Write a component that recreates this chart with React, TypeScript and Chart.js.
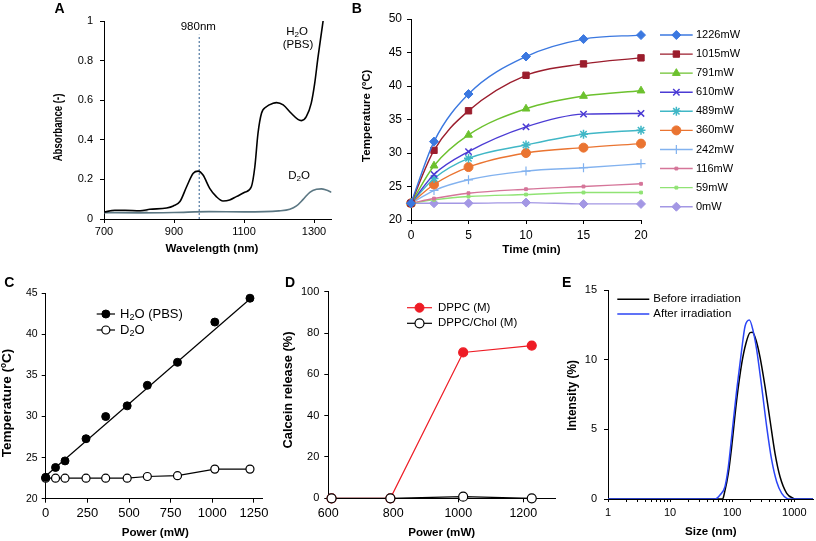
import React, { useEffect, useRef } from 'react';
import { Chart, registerables } from 'chart.js';
import { drawPoint } from 'chart.js/helpers';

Chart.register(...registerables);

const FONT = '"Liberation Sans", Arial, Helvetica, sans-serif';

// ---------- Panel A : absorbance spectra ----------
const aWave = [700, 731, 760, 803, 831, 879, 898, 917, 936, 955, 969, 983, 1002, 1021, 1040, 1059, 1078, 1102, 1121, 1131, 1140, 1150, 1164, 1183, 1193, 1212, 1235, 1254, 1264, 1278, 1292, 1302, 1311, 1321, 1326];
const aH2O = [0.035, 0.044, 0.044, 0.042, 0.049, 0.056, 0.066, 0.088, 0.163, 0.231, 0.242, 0.222, 0.155, 0.113, 0.091, 0.096, 0.113, 0.135, 0.163, 0.264, 0.433, 0.534, 0.567, 0.584, 0.588, 0.576, 0.534, 0.503, 0.497, 0.517, 0.584, 0.685, 0.811, 0.938, 1.0];
const aD2OWave = [700, 800, 900, 1000, 1100, 1200, 1231, 1250, 1269, 1288, 1307, 1321, 1335, 1350];
const aD2O = [0.032, 0.031, 0.033, 0.037, 0.036, 0.041, 0.049, 0.066, 0.099, 0.135, 0.15, 0.152, 0.146, 0.135];
const aShadeWave = [720, 731, 760, 803, 825];
const aShade = [0.04, 0.044, 0.044, 0.042, 0.046];
const aLaserNm = 972;
const aLaserTop = 0.93;
const aXTicks = [700, 900, 1100, 1300];
const aYTicks = [0, 0.2, 0.4, 0.6, 0.8, 1];

// ---------- Panel B : heating curves ----------
const bTime = [0, 2, 5, 10, 15, 20];
const bLabels = ['1226mW', '1015mW', '791mW', '610mW', '489mW', '360mW', '242mW', '116mW', '59mW', '0mW'];
const b1226 = [22.5, 31.7, 38.8, 44.4, 47.0, 47.6];
const b1015 = [22.5, 30.4, 36.3, 41.6, 43.3, 44.2];
const b791 = [22.5, 28.1, 32.7, 36.6, 38.5, 39.3];
const b610 = [22.5, 26.8, 30.2, 33.9, 35.8, 35.9];
const b489 = [22.5, 26.2, 29.2, 31.2, 32.8, 33.4];
const b360 = [22.5, 25.3, 27.9, 30.0, 30.8, 31.4];
const b242 = [22.5, 24.4, 26.0, 27.3, 27.8, 28.4];
const b116 = [22.5, 23.2, 24.0, 24.6, 25.0, 25.4];
const b59 = [22.5, 23.0, 23.5, 23.8, 24.1, 24.1];
const b0 = [22.5, 22.5, 22.5, 22.6, 22.4, 22.4];
const bSeries = [b1226, b1015, b791, b610, b489, b360, b242, b116, b59, b0];
const bXTicks = [0, 5, 10, 15, 20];
const bYTicks = [20, 25, 30, 35, 40, 45, 50];

// ---------- Panel C : temperature vs power ----------
const cPower = [0, 59, 116, 242, 360, 489, 610, 791, 1015, 1226];
const cH2O = [22.6, 23.8, 24.6, 27.3, 30.0, 31.3, 33.8, 36.6, 41.5, 44.4];
const cD2O = [22.5, 22.5, 22.5, 22.5, 22.5, 22.5, 22.7, 22.8, 23.6, 23.6];
const cFitX = [0, 1226];
const cFitY = [22.76, 44.3];
const cXTicks = [0, 250, 500, 750, 1000, 1250];
const cYTicks = [20, 25, 30, 35, 40, 45];

// ---------- Panel D : calcein release ----------
const dPower = [610, 791, 1015, 1226];
const dDPPC = [0, 0, 70.6, 73.9];
const dChol = [0, 0, 0.8, 0];
const dXTicks = [600, 800, 1000, 1200];
const dYTicks = [0, 20, 40, 60, 80, 100];

// ---------- Panel E : size distribution ----------
const eBeforeSize = [1, 60, 70.3, 74.7, 86.6, 98.1, 118, 142, 167, 194, 211, 242, 280, 338, 406, 489, 589, 755, 964, 1092, 2000];
const eBefore = [0, 0, 0, 0.4, 1.84, 3.76, 7.1, 9.7, 11.2, 11.94, 11.96, 11.4, 10.2, 8.06, 5.67, 3.28, 1.6, 0.41, 0.05, 0, 0];
const eAfterSize = [1, 45, 52.9, 63.6, 76.6, 86.6, 98.1, 118, 142, 161, 189, 219, 248, 298, 359, 432, 520, 627, 755, 853, 2000];
const eAfter = [0, 0, 0, 0.29, 0.9, 2.3, 4.5, 7.8, 10.7, 12.4, 12.85, 12.0, 10.7, 8.06, 5.2, 2.8, 1.24, 0.4, 0.05, 0, 0];
const eXTicks = [1, 2, 3, 4, 5, 6, 7, 8, 9, 10, 20, 30, 40, 50, 60, 70, 80, 90, 100, 200, 300, 400, 500, 600, 700, 800, 900, 1000];
const eXLabels = [1, 10, 100, 1000];
const eYTicks = [0, 5, 10, 15];

// ---------- helpers ----------
const zip = (xs: number[], ys: number[]) => xs.map((x, i) => ({ x, y: ys[i] }));

type TOpt = { size: number; bold?: boolean; align?: 'left' | 'center' | 'right'; color?: string; rot?: number; stretch?: number };

function drawText(ctx: CanvasRenderingContext2D, text: string, x: number, y: number, o: TOpt) {
  const parts = text.split(/_(.)/);
  const f = (s: number) => `${o.bold ? 'bold ' : ''}${s}px ${FONT}`;
  ctx.save();
  ctx.translate(x, y);
  if (o.rot) ctx.rotate(o.rot);
  if (o.stretch) ctx.scale(o.stretch, 1);
  let w = 0;
  parts.forEach((p, i) => {
    ctx.font = f(i % 2 ? o.size * 0.7 : o.size);
    w += ctx.measureText(p).width;
  });
  let cx = o.align === 'center' ? -w / 2 : o.align === 'right' ? -w : 0;
  ctx.fillStyle = o.color ?? '#000';
  ctx.textBaseline = 'middle';
  ctx.textAlign = 'left';
  parts.forEach((p, i) => {
    const sub = i % 2 === 1;
    ctx.font = f(sub ? o.size * 0.7 : o.size);
    ctx.fillText(p, cx, sub ? o.size * 0.3 : 0);
    cx += ctx.measureText(p).width;
  });
  ctx.restore();
}

type Leg = {
  text: string; x1: number; x2: number; y: number; tx: number; size: number;
  line: string; lw: number; style?: string; r?: number; fill?: string; stroke?: string; bw?: number;
};

function drawLegend(ctx: CanvasRenderingContext2D, it: Leg) {
  ctx.save();
  ctx.strokeStyle = it.line;
  ctx.lineWidth = it.lw;
  ctx.beginPath();
  ctx.moveTo(it.x1, it.y);
  ctx.lineTo(it.x2, it.y);
  ctx.stroke();
  if (it.style) {
    ctx.fillStyle = it.fill ?? it.line;
    ctx.strokeStyle = it.stroke ?? it.line;
    ctx.lineWidth = it.bw ?? 1;
    drawPoint(ctx, { pointStyle: it.style as any, radius: it.r ?? 4, rotation: 0, borderWidth: it.bw ?? 1 }, (it.x1 + it.x2) / 2, it.y);
  }
  ctx.restore();
  drawText(ctx, it.text, it.tx, it.y, { size: it.size });
}

function overlay(ox: number, oy: number, draw: (ctx: CanvasRenderingContext2D) => void) {
  return {
    id: 'overlay',
    afterDraw(chart: any) {
      const ctx = chart.ctx as CanvasRenderingContext2D;
      ctx.save();
      ctx.translate(-ox, -oy);
      draw(ctx);
      ctx.restore();
    },
  };
}

function axis(o: { horiz: boolean; min: number; max: number; ticks: number[]; fit: number; size: number; pad: number; type?: string; label?: (v: number) => string; tickLen?: number }) {
  return {
    type: o.type ?? 'linear',
    position: o.horiz ? 'bottom' : 'left',
    min: o.min,
    max: o.max,
    afterBuildTicks: (s: any) => { s.ticks = o.ticks.map((v) => ({ value: v })); },
    afterFit: (s: any) => { if (o.horiz) s.height = o.fit; else s.width = o.fit; },
    ticks: {
      autoSkip: false, maxRotation: 0, minRotation: 0, color: '#000', padding: o.pad,
      font: { family: FONT, size: o.size },
      callback: (v: any) => (o.label ? o.label(Number(v)) : String(v)),
    },
    grid: { display: true, drawOnChartArea: false, drawTicks: true, tickLength: o.tickLen ?? 4, color: '#000', lineWidth: 1 },
    border: { display: true, color: '#000', width: 1 },
    title: { display: false },
  };
}

function base(padding: any, scales: any) {
  return {
    responsive: false,
    animation: false,
    devicePixelRatio: 1,
    layout: { padding },
    plugins: { legend: { display: false }, tooltip: { enabled: false } },
    events: [],
    scales,
  };
}

const ROT = -Math.PI / 2;
const LETTER = { size: 14, bold: true, align: 'center' as const };
const TITLE = { size: 11.6, bold: true, align: 'center' as const };

// ---------- chart factories ----------
function makeA() {
  return {
    type: 'line',
    data: {
      datasets: [
        { label: 'H2O (PBS)', data: zip(aWave, aH2O), borderColor: '#000', borderWidth: 1.6, pointRadius: 0, cubicInterpolationMode: 'monotone', order: 0 },
        { label: 'D2O', data: zip(aD2OWave, aD2O), borderColor: '#5b7783', borderWidth: 1.6, pointRadius: 0, cubicInterpolationMode: 'monotone', order: 1 },
        { label: '980nm', data: [{ x: aLaserNm, y: 0 }, { x: aLaserNm, y: aLaserTop }], borderColor: '#2f5f8f', borderWidth: 1, borderDash: [2, 2], pointRadius: 0, order: 2 },
        { label: 'shade', data: zip(aShadeWave, aShade), borderWidth: 0, borderColor: 'rgba(0,0,0,0)', pointRadius: 0, fill: 1, backgroundColor: 'rgba(170,176,178,0.75)', order: 3 },
      ],
    },
    options: base({ left: 0, top: 21, right: 13.5, bottom: 0 }, {
      x: axis({ horiz: true, min: 700, max: 1350, ticks: aXTicks, fit: 43, size: 11, pad: 2 }),
      y: axis({ horiz: false, min: 0, max: 1, ticks: aYTicks, fit: 104, size: 11, pad: 7 }),
    }),
    plugins: [overlay(0, 0, (ctx) => {
      drawText(ctx, 'A', 59.5, 9, LETTER);
      drawText(ctx, 'Absorbance (-)', 59, 127.5, { ...TITLE, size: 12, rot: ROT, stretch: 0.8 });
      drawText(ctx, 'Wavelength (nm)', 212, 248.3, TITLE);
      drawText(ctx, '980nm', 198.3, 26.7, { size: 11.5, align: 'center' });
      drawText(ctx, 'H_2O', 297, 31.7, { size: 11.5, align: 'center' });
      drawText(ctx, '(PBS)', 298, 45, { size: 11.5, align: 'center' });
      drawText(ctx, 'D_2O', 299, 175.7, { size: 11.5, align: 'center' });
    })],
  };
}

const bStyles = [
  { c: '#3b78e0', s: 'rectRot', r: 4.5, bw: 1 },
  { c: '#9b1d2d', s: 'rect', r: 4.5, bw: 1 },
  { c: '#6cc12e', s: 'triangle', r: 4.5, bw: 1 },
  { c: '#4b3bd4', s: 'crossRot', r: 4.5, bw: 1.5 },
  { c: '#40b7c6', s: 'star', r: 4.5, bw: 1.5 },
  { c: '#ea7431', s: 'circle', r: 4.5, bw: 1 },
  { c: '#82b2ef', s: 'cross', r: 4.5, bw: 1.2 },
  { c: '#d57599', s: 'rect', r: 2, bw: 1 },
  { c: '#90e374', s: 'rect', r: 2, bw: 1 },
  { c: '#a397e4', s: 'rectRot', r: 4.5, bw: 1 },
];

function makeB() {
  const ox = 345, oy = 0;
  return {
    type: 'line',
    data: {
      datasets: bSeries.map((ys, i) => ({
        label: bLabels[i], data: zip(bTime, ys),
        borderColor: bStyles[i].c, backgroundColor: bStyles[i].c,
        pointStyle: bStyles[i].s, pointRadius: bStyles[i].r, pointBorderWidth: bStyles[i].bw,
        pointBackgroundColor: bStyles[i].c, pointBorderColor: bStyles[i].c,
        borderWidth: 1.4, cubicInterpolationMode: 'monotone', clip: false,
      })),
    },
    options: base({ left: 0, top: 19, right: 119, bottom: 0 }, {
      x: axis({ horiz: true, min: 0, max: 20, ticks: bXTicks, fit: 42, size: 12, pad: 4 }),
      y: axis({ horiz: false, min: 20, max: 50, ticks: bYTicks, fit: 66, size: 12, pad: 5 }),
    }),
    plugins: [overlay(ox, oy, (ctx) => {
      drawText(ctx, 'B', 356.7, 9, LETTER);
      drawText(ctx, 'Temperature (ºC)', 366.7, 115.8, { ...TITLE, size: 11.5, rot: ROT });
      drawText(ctx, 'Time (min)', 531.5, 250, TITLE);
      bLabels.forEach((t, i) => drawLegend(ctx, {
        text: t, x1: 660, x2: 692.7, y: 35 + i * 19.08, tx: 696, size: 11,
        line: bStyles[i].c, lw: 1.4, style: bStyles[i].s, r: bStyles[i].r, bw: bStyles[i].bw,
      }));
    })],
  };
}

function makeC() {
  const ox = 0, oy = 262;
  return {
    type: 'line',
    data: {
      datasets: [
        { label: 'H2O (PBS)', data: zip(cPower, cH2O), showLine: false, pointRadius: 4, pointBackgroundColor: '#000', pointBorderColor: '#000', borderColor: '#000', clip: false, order: 0 },
        { label: 'fit', data: zip(cFitX, cFitY), borderColor: '#000', borderWidth: 1.2, pointRadius: 0, order: 2 },
        { label: 'D2O', data: zip(cPower, cD2O), borderColor: '#000', borderWidth: 1.2, pointRadius: 4, pointBackgroundColor: '#fff', pointBorderColor: '#000', pointBorderWidth: 1.2, clip: false, order: 1 },
      ],
    },
    options: base({ left: 0, top: 31.3, right: 12.7, bottom: 0 }, {
      x: axis({ horiz: true, min: 0, max: 1300, ticks: cXTicks, fit: 42.3, size: 13, pad: 3 }),
      y: axis({ horiz: false, min: 20, max: 45, ticks: cYTicks, fit: 45.7, size: 10.5, pad: 4 }),
    }),
    plugins: [overlay(ox, oy, (ctx) => {
      drawText(ctx, 'C', 9.2, 282.8, LETTER);
      drawText(ctx, 'Temperature (ºC)', 7.3, 403, { ...TITLE, size: 12, rot: ROT, stretch: 1.13 });
      drawText(ctx, 'Power (mW)', 155.3, 532.7, TITLE);
      drawLegend(ctx, { text: 'H_2O (PBS)', x1: 96.7, x2: 115, y: 314, tx: 120, size: 13, line: '#000', lw: 1.2, style: 'circle', r: 4, fill: '#000', stroke: '#000', bw: 1 });
      drawLegend(ctx, { text: 'D_2O', x1: 96.7, x2: 115, y: 330, tx: 120, size: 13, line: '#000', lw: 1.2, style: 'circle', r: 4, fill: '#fff', stroke: '#000', bw: 1.2 });
    })],
  };
}

function makeD() {
  const ox = 278, oy = 262;
  return {
    type: 'line',
    data: {
      datasets: [
        { label: 'DPPC (M)', data: zip(dPower, dDPPC), borderColor: '#ee1c25', borderWidth: 1.2, pointRadius: 4.5, pointBackgroundColor: '#ee1c25', pointBorderColor: '#ee1c25', clip: false, order: 1 },
        { label: 'DPPC/Chol (M)', data: zip(dPower, dChol), borderColor: '#000', borderWidth: 1.2, pointRadius: 4.5, pointBackgroundColor: '#fff', pointBorderColor: '#000', pointBorderWidth: 1.2, clip: false, order: 0 },
      ],
    },
    options: base({ left: 0, top: 29.7, right: 7.2, bottom: 0 }, {
      x: axis({ horiz: true, min: 600, max: 1300, ticks: dXTicks, fit: 42.7, size: 12.5, pad: 4 }),
      y: axis({ horiz: false, min: 0, max: 100, ticks: dYTicks, fit: 50.3, size: 11, pad: 5 }),
    }),
    plugins: [overlay(ox, oy, (ctx) => {
      drawText(ctx, 'D', 290, 283, LETTER);
      drawText(ctx, 'Calcein release (%)', 288.3, 390, { ...TITLE, size: 12, rot: ROT, stretch: 1.07 });
      drawText(ctx, 'Power (mW)', 441.7, 533, TITLE);
      drawLegend(ctx, { text: 'DPPC (M)', x1: 407, x2: 432, y: 307.7, tx: 438, size: 11.5, line: '#ee1c25', lw: 1.2, style: 'circle', r: 4.5, fill: '#ee1c25', stroke: '#ee1c25', bw: 1 });
      drawLegend(ctx, { text: 'DPPC/Chol (M)', x1: 407, x2: 432, y: 323.3, tx: 438, size: 11.5, line: '#000', lw: 1.2, style: 'circle', r: 4.5, fill: '#fff', stroke: '#000', bw: 1.2 });
    })],
  };
}

function makeE() {
  const ox = 562, oy = 262;
  return {
    type: 'line',
    data: {
      datasets: [
        { label: 'Before irradiation', data: zip(eBeforeSize, eBefore), borderColor: '#000', borderWidth: 1.5, pointRadius: 0, cubicInterpolationMode: 'monotone', order: 1 },
        { label: 'After irradiation', data: zip(eAfterSize, eAfter), borderColor: '#2b45f5', borderWidth: 1.5, pointRadius: 0, cubicInterpolationMode: 'monotone', order: 0 },
      ],
    },
    options: base({ left: 0, top: 28, right: 3, bottom: 0 }, {
      x: axis({ horiz: true, type: 'logarithmic', min: 1, max: 2000, ticks: eXTicks, fit: 42, size: 11, pad: 4, tickLen: 3, label: (v) => (eXLabels.includes(v) ? String(v) : '') }),
      y: axis({ horiz: false, min: 0, max: 15, ticks: eYTicks, fit: 46, size: 11, pad: 7 }),
    }),
    plugins: [overlay(ox, oy, (ctx) => {
      drawText(ctx, 'E', 566.7, 283, LETTER);
      drawText(ctx, 'Intensity (%)', 572.3, 395.3, { ...TITLE, size: 11.9, rot: ROT });
      drawText(ctx, 'Size (nm)', 710.8, 531.7, TITLE);
      drawLegend(ctx, { text: 'Before irradiation', x1: 617.3, x2: 649.3, y: 299.3, tx: 653.3, size: 11.5, line: '#000', lw: 1.5 });
      drawLegend(ctx, { text: 'After irradiation', x1: 617.3, x2: 649.3, y: 314, tx: 653.3, size: 11.5, line: '#2b45f5', lw: 1.5 });
    })],
  };
}

function Panel({ x, y, w, h, make }: { x: number; y: number; w: number; h: number; make: () => any }) {
  const ref = useRef<HTMLCanvasElement | null>(null);
  useEffect(() => {
    if (!ref.current) return;
    const chart = new Chart(ref.current, make());
    return () => chart.destroy();
  }, []);
  return <canvas ref={ref} width={w} height={h} style={{ position: 'absolute', left: x, top: y, width: w, height: h }} />;
}

export default function App() {
  return (
    <div style={{ position: 'absolute', left: 0, top: 0, width: 816, height: 541, background: '#fff', overflow: 'hidden' }}>
      <Panel x={0} y={0} w={345} h={262} make={makeA} />
      <Panel x={345} y={0} w={415} h={262} make={makeB} />
      <Panel x={0} y={262} w={275} h={279} make={makeC} />
      <Panel x={278} y={262} w={285} h={279} make={makeD} />
      <Panel x={562} y={262} w={254} h={279} make={makeE} />
    </div>
  );
}
